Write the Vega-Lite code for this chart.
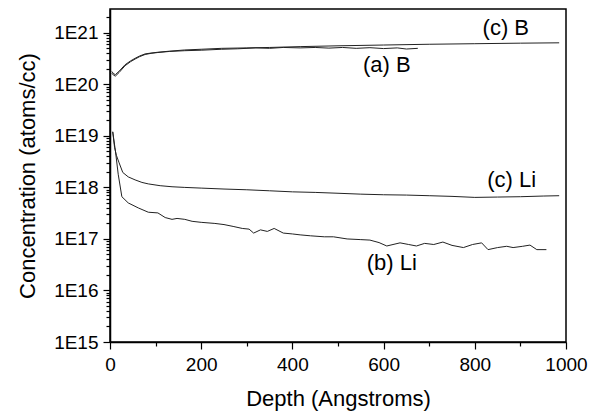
{
  "$schema": "https://vega.github.io/schema/vega-lite/v6.json",
  "width": 456,
  "height": 333,
  "autosize": {"type": "none"},
  "padding": {"left": 110, "top": 9, "right": 23, "bottom": 74},
  "background": "white",
  "config": {
    "view": {"stroke": "black", "strokeWidth": 1.5},
    "font": "Liberation Sans",
    "axis": {"domainColor": "black", "domainWidth": 1.5, "tickColor": "black", "tickWidth": 1.2, "labelColor": "black", "titleColor": "black", "labelFont": "Liberation Sans", "titleFont": "Liberation Sans", "titleFontWeight": "normal", "grid": false}
  },
  "datasets": {
    "profiles": [
      {"series": "cB", "depth": 4, "conc": 1.78e20},
      {"series": "cB", "depth": 8, "conc": 1.6e20},
      {"series": "cB", "depth": 12, "conc": 1.55e20},
      {"series": "cB", "depth": 20, "conc": 1.8e20},
      {"series": "cB", "depth": 33, "conc": 2.4e20},
      {"series": "cB", "depth": 45, "conc": 2.85e20},
      {"series": "cB", "depth": 55, "conc": 3.2e20},
      {"series": "cB", "depth": 65, "conc": 3.55e20},
      {"series": "cB", "depth": 77, "conc": 3.9e20},
      {"series": "cB", "depth": 90, "conc": 4.05e20},
      {"series": "cB", "depth": 105, "conc": 4.2e20},
      {"series": "cB", "depth": 130, "conc": 4.4e20},
      {"series": "cB", "depth": 164, "conc": 4.65e20},
      {"series": "cB", "depth": 200, "conc": 4.8e20},
      {"series": "cB", "depth": 245, "conc": 5.0e20},
      {"series": "cB", "depth": 300, "conc": 5.1e20},
      {"series": "cB", "depth": 350, "conc": 5.2e20},
      {"series": "cB", "depth": 417, "conc": 5.4e20},
      {"series": "cB", "depth": 500, "conc": 5.6e20},
      {"series": "cB", "depth": 600, "conc": 5.8e20},
      {"series": "cB", "depth": 700, "conc": 6.0e20},
      {"series": "cB", "depth": 800, "conc": 6.15e20},
      {"series": "cB", "depth": 900, "conc": 6.3e20},
      {"series": "cB", "depth": 985, "conc": 6.4e20},

      {"series": "aB", "depth": 4, "conc": 1.65e20},
      {"series": "aB", "depth": 8, "conc": 1.5e20},
      {"series": "aB", "depth": 12, "conc": 1.45e20},
      {"series": "aB", "depth": 20, "conc": 1.7e20},
      {"series": "aB", "depth": 33, "conc": 2.3e20},
      {"series": "aB", "depth": 45, "conc": 2.75e20},
      {"series": "aB", "depth": 55, "conc": 3.1e20},
      {"series": "aB", "depth": 65, "conc": 3.45e20},
      {"series": "aB", "depth": 77, "conc": 3.8e20},
      {"series": "aB", "depth": 90, "conc": 4.0e20},
      {"series": "aB", "depth": 105, "conc": 4.15e20},
      {"series": "aB", "depth": 130, "conc": 4.35e20},
      {"series": "aB", "depth": 164, "conc": 4.5e20},
      {"series": "aB", "depth": 200, "conc": 4.6e20},
      {"series": "aB", "depth": 245, "conc": 4.8e20},
      {"series": "aB", "depth": 280, "conc": 4.9e20},
      {"series": "aB", "depth": 320, "conc": 5.1e20},
      {"series": "aB", "depth": 350, "conc": 5.0e20},
      {"series": "aB", "depth": 380, "conc": 5.2e20},
      {"series": "aB", "depth": 417, "conc": 5.1e20},
      {"series": "aB", "depth": 450, "conc": 5.2e20},
      {"series": "aB", "depth": 480, "conc": 5.05e20},
      {"series": "aB", "depth": 510, "conc": 5.2e20},
      {"series": "aB", "depth": 540, "conc": 5.0e20},
      {"series": "aB", "depth": 570, "conc": 5.15e20},
      {"series": "aB", "depth": 600, "conc": 4.95e20},
      {"series": "aB", "depth": 630, "conc": 5.1e20},
      {"series": "aB", "depth": 650, "conc": 4.85e20},
      {"series": "aB", "depth": 675, "conc": 5.0e20},

      {"series": "cLi", "depth": 6, "conc": 1.2e19},
      {"series": "cLi", "depth": 10, "conc": 6.0e18},
      {"series": "cLi", "depth": 14, "conc": 4.2e18},
      {"series": "cLi", "depth": 20, "conc": 3.0e18},
      {"series": "cLi", "depth": 28, "conc": 1.95e18},
      {"series": "cLi", "depth": 40, "conc": 1.6e18},
      {"series": "cLi", "depth": 55, "conc": 1.4e18},
      {"series": "cLi", "depth": 70, "conc": 1.25e18},
      {"series": "cLi", "depth": 84, "conc": 1.17e18},
      {"series": "cLi", "depth": 110, "conc": 1.08e18},
      {"series": "cLi", "depth": 136, "conc": 1.03e18},
      {"series": "cLi", "depth": 164, "conc": 1.0e18},
      {"series": "cLi", "depth": 200, "conc": 0.97e18},
      {"series": "cLi", "depth": 250, "conc": 0.93e18},
      {"series": "cLi", "depth": 300, "conc": 0.9e18},
      {"series": "cLi", "depth": 350, "conc": 0.86e18},
      {"series": "cLi", "depth": 400, "conc": 0.82e18},
      {"series": "cLi", "depth": 450, "conc": 0.8e18},
      {"series": "cLi", "depth": 500, "conc": 0.77e18},
      {"series": "cLi", "depth": 550, "conc": 0.74e18},
      {"series": "cLi", "depth": 600, "conc": 0.72e18},
      {"series": "cLi", "depth": 650, "conc": 0.71e18},
      {"series": "cLi", "depth": 700, "conc": 0.69e18},
      {"series": "cLi", "depth": 750, "conc": 0.67e18},
      {"series": "cLi", "depth": 800, "conc": 0.64e18},
      {"series": "cLi", "depth": 850, "conc": 0.65e18},
      {"series": "cLi", "depth": 900, "conc": 0.66e18},
      {"series": "cLi", "depth": 950, "conc": 0.68e18},
      {"series": "cLi", "depth": 985, "conc": 0.69e18},

      {"series": "bLi", "depth": 6, "conc": 1.2e19},
      {"series": "bLi", "depth": 12, "conc": 5.0e18},
      {"series": "bLi", "depth": 18, "conc": 1.8e18},
      {"series": "bLi", "depth": 26, "conc": 6.6e17},
      {"series": "bLi", "depth": 40, "conc": 5.0e17},
      {"series": "bLi", "depth": 62, "conc": 4.0e17},
      {"series": "bLi", "depth": 84, "conc": 3.3e17},
      {"series": "bLi", "depth": 105, "conc": 3.2e17},
      {"series": "bLi", "depth": 121, "conc": 2.6e17},
      {"series": "bLi", "depth": 136, "conc": 2.4e17},
      {"series": "bLi", "depth": 147, "conc": 2.5e17},
      {"series": "bLi", "depth": 164, "conc": 2.4e17},
      {"series": "bLi", "depth": 180, "conc": 2.2e17},
      {"series": "bLi", "depth": 200, "conc": 2.1e17},
      {"series": "bLi", "depth": 230, "conc": 2.0e17},
      {"series": "bLi", "depth": 250, "conc": 1.9e17},
      {"series": "bLi", "depth": 270, "conc": 1.75e17},
      {"series": "bLi", "depth": 290, "conc": 1.6e17},
      {"series": "bLi", "depth": 305, "conc": 1.55e17},
      {"series": "bLi", "depth": 315, "conc": 1.3e17},
      {"series": "bLi", "depth": 330, "conc": 1.5e17},
      {"series": "bLi", "depth": 345, "conc": 1.4e17},
      {"series": "bLi", "depth": 360, "conc": 1.6e17},
      {"series": "bLi", "depth": 380, "conc": 1.3e17},
      {"series": "bLi", "depth": 400, "conc": 1.25e17},
      {"series": "bLi", "depth": 417, "conc": 1.2e17},
      {"series": "bLi", "depth": 440, "conc": 1.15e17},
      {"series": "bLi", "depth": 470, "conc": 1.1e17},
      {"series": "bLi", "depth": 490, "conc": 1.1e17},
      {"series": "bLi", "depth": 520, "conc": 1.0e17},
      {"series": "bLi", "depth": 550, "conc": 0.97e17},
      {"series": "bLi", "depth": 570, "conc": 0.95e17},
      {"series": "bLi", "depth": 590, "conc": 0.85e17},
      {"series": "bLi", "depth": 607, "conc": 0.73e17},
      {"series": "bLi", "depth": 636, "conc": 0.84e17},
      {"series": "bLi", "depth": 655, "conc": 0.78e17},
      {"series": "bLi", "depth": 672, "conc": 0.73e17},
      {"series": "bLi", "depth": 690, "conc": 0.82e17},
      {"series": "bLi", "depth": 710, "conc": 0.78e17},
      {"series": "bLi", "depth": 730, "conc": 0.87e17},
      {"series": "bLi", "depth": 750, "conc": 0.75e17},
      {"series": "bLi", "depth": 775, "conc": 0.68e17},
      {"series": "bLi", "depth": 795, "conc": 0.78e17},
      {"series": "bLi", "depth": 815, "conc": 0.84e17},
      {"series": "bLi", "depth": 829, "conc": 0.62e17},
      {"series": "bLi", "depth": 850, "conc": 0.68e17},
      {"series": "bLi", "depth": 870, "conc": 0.72e17},
      {"series": "bLi", "depth": 884, "conc": 0.68e17},
      {"series": "bLi", "depth": 905, "conc": 0.72e17},
      {"series": "bLi", "depth": 921, "conc": 0.76e17},
      {"series": "bLi", "depth": 936, "conc": 0.62e17},
      {"series": "bLi", "depth": 957, "conc": 0.62e17}
    ],
    "labels": [
      {"label": "(c) B", "depth": 868, "conc": 1.25e21},
      {"label": "(a) B", "depth": 607, "conc": 2.4e20},
      {"label": "(c) Li", "depth": 881, "conc": 1.4e18},
      {"label": "(b) Li", "depth": 618, "conc": 3.4e16}
    ]
  },
  "layer": [
    {
      "data": {"name": "profiles"},
      "mark": {"type": "line", "color": "#222222", "strokeWidth": 1},
      "encoding": {
        "x": {
          "field": "depth", "type": "quantitative",
          "scale": {"domain": [0, 1000], "nice": false},
          "axis": {
            "title": "Depth (Angstroms)",
            "values": [0, 100, 200, 300, 400, 500, 600, 700, 800, 900, 1000],
            "labelExpr": "datum.value % 200 == 0 ? format(datum.value, 'd') : ''",
            "tickSize": {"condition": {"test": "datum.value % 200 == 0", "value": 7}, "value": 4},
            "labelFontSize": 19, "labelPadding": 6,
            "titleFontSize": 22, "titlePadding": 14,
            "labelFlush": false
          }
        },
        "y": {
          "field": "conc", "type": "quantitative",
          "scale": {"type": "log", "domain": [1e15, 2.9e21], "nice": false},
          "axis": {
            "title": "Concentration (atoms/cc)",
            "values": [1e15,2e15,3e15,4e15,5e15,6e15,7e15,8e15,9e15,1e16,2e16,3e16,4e16,5e16,6e16,7e16,8e16,9e16,1e17,2e17,3e17,4e17,5e17,6e17,7e17,8e17,9e17,1e18,2e18,3e18,4e18,5e18,6e18,7e18,8e18,9e18,1e19,2e19,3e19,4e19,5e19,6e19,7e19,8e19,9e19,1e20,2e20,3e20,4e20,5e20,6e20,7e20,8e20,9e20,1e21,2e21],
            "labelExpr": "abs(log(datum.value)/LN10 - round(log(datum.value)/LN10)) < 0.001 ? '1E' + round(log(datum.value)/LN10) : ''",
            "tickSize": {"condition": {"test": "abs(log(datum.value)/LN10 - round(log(datum.value)/LN10)) < 0.001", "value": 7}, "value": 4},
            "labelFontSize": 19, "labelPadding": 5,
            "titleFontSize": 22, "titlePadding": 14,
            "labelFlush": false, "labelOverlap": false
          }
        },
        "detail": {"field": "series", "type": "nominal"}
      }
    },
    {
      "data": {"name": "labels"},
      "mark": {"type": "text", "fontSize": 22, "color": "black", "font": "Liberation Sans", "align": "center", "baseline": "middle"},
      "encoding": {
        "x": {"field": "depth", "type": "quantitative"},
        "y": {"field": "conc", "type": "quantitative"},
        "text": {"field": "label"}
      }
    }
  ]
}
